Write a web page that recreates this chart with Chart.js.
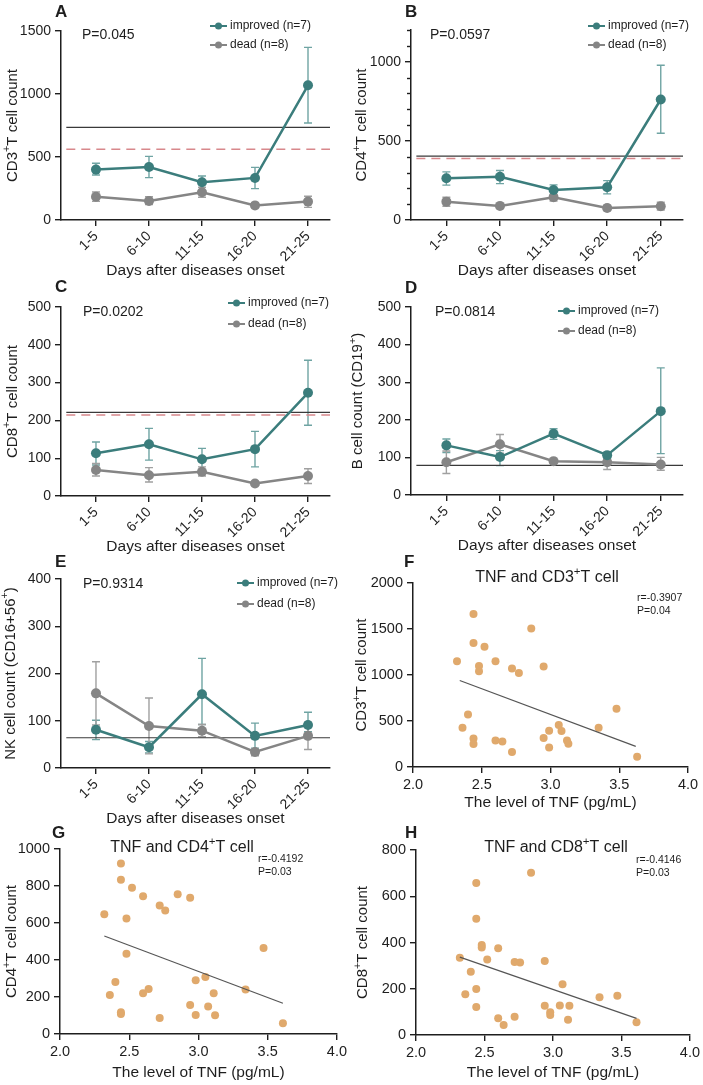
<!DOCTYPE html>
<html>
<head>
<meta charset="utf-8">
<script src="https://cdn.jsdelivr.net/npm/chart.js@4.4.1/dist/chart.umd.min.js"></script>
<style>
  html, body { margin: 0; padding: 0; background: #fff; }
  body { width: 703px; height: 1085px; position: relative; overflow: hidden; }
</style>
</head>
<body>
<script>
// ---- data ----
var days = ["1-5", "6-10", "11-15", "16-20", "21-25"];

// A: CD3+ T cells
var cd3Improved = [400, 420, 299, 334, 1069];
var cd3ImprovedHi = [450, 505, 349, 418, 1370];
var cd3ImprovedLo = [357, 336, 259, 249, 770];
var cd3Dead = [185, 151, 220, 116, 146];
var cd3DeadHi = [222, 185, 259, 135, 188];
var cd3DeadLo = [148, 122, 180, 98, 100];
var cd3Ref = [735, 561];
var cd3Ticks = [0, 500, 1000, 1500];

// B: CD4+ T cells
var cd4Improved = [264, 273, 190, 207, 761];
var cd4ImprovedHi = [304, 313, 222, 249, 977];
var cd4ImprovedLo = [220, 230, 156, 165, 548];
var cd4Dead = [116, 89, 144, 76, 87];
var cd4DeadHi = [144, 100, 161, 93, 112];
var cd4DeadLo = [87, 80, 120, 59, 63];
var cd4Ref = [404, 389];
var cd4Ticks = [0, 500, 1000];
var cd4MinorTicks = [100, 200, 300, 400, 600, 700, 800, 900, 1100, 1200];

// C: CD8+ T cells
var cd8Improved = [113, 137, 97, 124, 273];
var cd8ImprovedHi = [143, 179, 126, 171, 359];
var cd8ImprovedLo = [82, 95, 69, 77, 187];
var cd8Dead = [69, 55, 64, 33, 53];
var cd8DeadHi = [86, 75, 77, 38, 72];
var cd8DeadLo = [53, 37, 53, 28, 33];
var cd8Ref = [221, 214];
var cd8Ticks = [0, 100, 200, 300, 400, 500];

// D: B cells
var bImproved = [132, 101, 163, 106, 223];
var bImprovedHi = [149, 118, 176, 113, 338];
var bImprovedLo = [113, 78, 148, 97, 110];
var bDead = [87, 135, 90, 87, 81];
var bDeadHi = [117, 161, 93, 95, 100];
var bDeadLo = [57, 111, 86, 68, 66];
var bRef = [79];
var bTicks = [0, 100, 200, 300, 400, 500];

// E: NK cells
var nkImproved = [81, 44, 156, 68, 91];
var nkImprovedHi = [101, 56, 232, 95, 118];
var nkImprovedLo = [60, 32, 92, 42, 77];
var nkDead = [158, 89, 79, 34, 68];
var nkDeadHi = [225, 148, 92, 40, 97];
var nkDeadLo = [91, 30, 66, 26, 39];
var nkRef = [64];
var nkTicks = [0, 100, 200, 300, 400];

// F/G/H: TNF correlations
var tnfTicks = [2.0, 2.5, 3.0, 3.5, 4.0];
var tnfCd3X = [2.44, 2.86, 2.44, 2.52, 2.32, 2.48, 2.48, 2.60, 2.72, 2.77, 2.95, 2.40, 2.36, 2.44, 2.44, 2.60, 2.65, 2.72, 2.95, 2.99, 3.06, 3.08, 2.99, 3.12, 3.13, 3.35, 3.48, 3.63];
var tnfCd3Y = [1664, 1505, 1349, 1306, 1150, 1099, 1042, 1150, 1071, 1023, 1092, 571, 427, 311, 250, 289, 278, 163, 315, 394, 456, 391, 213, 289, 253, 427, 633, 112];
var tnfCd3FitX = [2.34, 3.62];
var tnfCd3FitY = [940, 224];
var tnfCd3Ticks = [0, 500, 1000, 1500, 2000];

var tnfCd4X = [2.44, 2.44, 2.52, 2.60, 2.72, 2.76, 2.85, 2.94, 2.32, 2.48, 2.48, 3.47, 2.40, 2.36, 2.44, 2.44, 2.60, 2.64, 2.72, 2.94, 2.98, 3.05, 2.98, 3.07, 3.11, 3.12, 3.34, 3.61];
var tnfCd4Y = [922, 834, 791, 744, 695, 668, 755, 737, 647, 625, 434, 465, 281, 211, 117, 108, 220, 243, 86, 157, 290, 308, 103, 148, 220, 101, 240, 58];
var tnfCd4FitX = [2.32, 3.61];
var tnfCd4FitY = [530, 166];
var tnfCd4Ticks = [0, 200, 400, 600, 800, 1000];

var tnfCd8X = [2.84, 2.44, 2.44, 2.48, 2.48, 2.60, 2.32, 2.52, 2.72, 2.76, 2.94, 2.40, 2.44, 2.36, 2.44, 2.60, 2.64, 2.72, 2.94, 2.98, 2.98, 3.05, 3.07, 3.12, 3.11, 3.34, 3.47, 3.61];
var tnfCd8Y = [702, 657, 503, 389, 378, 375, 334, 326, 316, 313, 320, 274, 199, 176, 121, 72, 43, 79, 127, 98, 86, 128, 220, 127, 66, 163, 170, 55];
var tnfCd8FitX = [2.32, 3.61];
var tnfCd8FitY = [337, 72];
var tnfCd8Ticks = [0, 200, 400, 600, 800];

// ---- styling ----
var FONT = "'Liberation Sans', Arial, Helvetica, sans-serif";
var INK = "#1e1e1e";
var TEAL = "#3b7d7c";
var TEAL_ERR = "#6fa4a3";
var GREY = "#858585";
var GREY_ERR = "#a0a0a0";
var ORANGE = "#e0a96c";
var X_MIN = 0.34, X_MAX = 5.415;

Chart.defaults.font.family = FONT;
Chart.defaults.color = INK;
Chart.defaults.animation = false;

function makeCanvas(b) {
  var c = document.createElement("canvas");
  c.width = b.w;
  c.height = b.h;
  c.style.cssText = "position:absolute;left:" + b.x + "px;top:" + b.y + "px;width:" + b.w + "px;height:" + b.h + "px";
  document.body.appendChild(c);
  return c;
}

// text with "^" parts drawn as superscript
function rich(ctx, parts, x, y, size, align) {
  var segs = parts.map(function (p) {
    return p[0] === "^" ? { t: p.slice(1), s: size * 0.72, dy: -size * 0.36 } : { t: p, s: size, dy: 0 };
  });
  var w = 0;
  segs.forEach(function (g) {
    ctx.font = g.s + "px " + FONT;
    g.w = ctx.measureText(g.t).width;
    w += g.w;
  });
  var cx = align === "center" ? x - w / 2 : x;
  ctx.textAlign = "left";
  segs.forEach(function (g) {
    ctx.font = g.s + "px " + FONT;
    ctx.fillText(g.t, cx, y + g.dy);
    cx += g.w;
  });
}

function overlay(b, o) {
  return {
    id: "overlay",
    beforeDatasetsDraw: function (chart) {
      var ctx = chart.ctx, xs = chart.scales.x, ys = chart.scales.y;
      chart.data.datasets.forEach(function (ds) {
        if (!ds.errHi) return;
        ctx.save();
        ctx.strokeStyle = ds.errColor;
        ctx.lineWidth = 1.4;
        ds.data.forEach(function (p, j) {
          var px = xs.getPixelForValue(p.x);
          var t = ys.getPixelForValue(ds.errHi[j]);
          var bt = ys.getPixelForValue(ds.errLo[j]);
          ctx.beginPath();
          ctx.moveTo(px, t); ctx.lineTo(px, bt);
          ctx.moveTo(px - 4, t); ctx.lineTo(px + 4, t);
          ctx.moveTo(px - 4, bt); ctx.lineTo(px + 4, bt);
          ctx.stroke();
        });
        ctx.restore();
      });
    },
    afterDraw: function (chart) {
      var ctx = chart.ctx, ca = chart.chartArea;
      ctx.save();
      ctx.fillStyle = INK;
      ctx.textBaseline = "alphabetic";
      ctx.textAlign = "left";
      ctx.font = "bold 17px " + FONT;
      ctx.fillText(o.letter, o.letterAt[0] - b.x, o.letterAt[1] - b.y);

      ctx.textBaseline = "middle";
      ctx.save();
      ctx.translate(o.yTitleX - b.x, (ca.top + ca.bottom) / 2);
      ctx.rotate(-Math.PI / 2);
      rich(ctx, o.yTitle, 0, 0, 15, "center");
      ctx.restore();

      if (o.p) {
        ctx.font = "14px " + FONT;
        ctx.textAlign = "left";
        ctx.fillText(o.p, o.pAt[0] - b.x, o.pAt[1] - b.y);
      }
      if (o.legendAt) {
        var items = [["improved (n=7)", TEAL], ["dead (n=8)", GREY]];
        items.forEach(function (it, k) {
          var x0 = o.legendAt[0] - b.x, y0 = o.legendAt[1 + k] - b.y;
          ctx.strokeStyle = it[1];
          ctx.fillStyle = it[1];
          ctx.lineWidth = 2;
          ctx.beginPath(); ctx.moveTo(x0, y0); ctx.lineTo(x0 + 17, y0); ctx.stroke();
          ctx.beginPath(); ctx.arc(x0 + 8.5, y0, 3.5, 0, Math.PI * 2); ctx.fill();
          ctx.fillStyle = INK;
          ctx.font = "12px " + FONT;
          ctx.fillText(it[0], x0 + 20, y0);
        });
      }
      if (o.title) {
        rich(ctx, o.title, o.titleAt[0] - b.x, o.titleAt[1] - b.y, 16, "center");
      }
      if (o.stats) {
        ctx.font = "10.5px " + FONT;
        ctx.fillStyle = INK;
        ctx.fillText(o.stats[0], o.statsAt[0] - b.x, o.statsAt[1] - b.y);
        ctx.fillText(o.stats[1], o.statsAt[0] - b.x, o.statsAt[2] - b.y);
      }
      if (o.minor) {
        var ys = chart.scales.y;
        ctx.strokeStyle = INK;
        ctx.lineWidth = 1.4;
        o.minor.forEach(function (v) {
          var py = Math.round(ys.getPixelForValue(v)) + 0.5;
          ctx.beginPath(); ctx.moveTo(ca.left, py); ctx.lineTo(ca.left - 4, py); ctx.stroke();
        });
      }
      ctx.restore();
    }
  };
}

function axisCommon() {
  return {
    grid: { drawOnChartArea: false, drawTicks: true, tickLength: 6, color: INK, lineWidth: 1.4 },
    border: { color: INK, width: 1.5 }
  };
}

function layoutFor(b) {
  return { padding: { left: 0, top: b.T - b.y, right: b.x + b.w - b.R, bottom: b.y + b.h - b.B - b.xh } };
}

function plain(v) { return String(v); }

function lineChart(b, s, o) {
  var pts = function (arr) { return arr.map(function (v, i) { return { x: i + 1, y: v }; }); };
  var datasets = [
    { data: pts(s.imp), errHi: s.impHi, errLo: s.impLo, errColor: TEAL_ERR, borderColor: TEAL, backgroundColor: TEAL,
      borderWidth: 2.5, pointRadius: 5, pointBorderWidth: 0, tension: 0, order: 1 },
    { data: pts(s.dead), errHi: s.deadHi, errLo: s.deadLo, errColor: GREY_ERR, borderColor: GREY, backgroundColor: GREY,
      borderWidth: 2.5, pointRadius: 5, pointBorderWidth: 0, tension: 0, order: 2 }
  ];
  datasets.push({ data: [{ x: X_MIN + 0.1, y: s.ref[0] }, { x: X_MAX, y: s.ref[0] }], borderColor: "#3a3a3a",
    borderWidth: 1.2, pointRadius: 0, order: 4 });
  if (s.ref.length > 1) {
    datasets.push({ data: [{ x: X_MIN + 0.1, y: s.ref[1] }, { x: X_MAX, y: s.ref[1] }], borderColor: "#d8888c",
      borderWidth: 1.5, borderDash: [9, 6], pointRadius: 0, order: 3 });
  }
  var xa = axisCommon(), ya = axisCommon();
  new Chart(makeCanvas(b), {
    type: "line",
    data: { datasets: datasets },
    options: {
      responsive: false,
      layout: layoutFor(b),
      plugins: { legend: { display: false }, tooltip: { enabled: false } },
      scales: {
        x: {
          type: "linear", min: X_MIN, max: X_MAX,
          afterBuildTicks: function (sc) { sc.ticks = days.map(function (d, i) { return { value: i + 1 }; }); },
          afterFit: function (sc) { sc.height = b.xh; },
          ticks: { callback: function (v, i) { return days[i]; }, minRotation: 45, maxRotation: 45, autoSkip: false,
            font: { size: 14 }, color: INK, padding: 2 },
          grid: xa.grid, border: xa.border,
          title: { display: true, text: "Days after diseases onset", font: { size: 15.5 }, color: INK, padding: { top: 0, bottom: 0 } }
        },
        y: {
          min: 0, max: s.yMax,
          afterBuildTicks: function (sc) { sc.ticks = s.yTicks.map(function (v) { return { value: v }; }); },
          afterFit: function (sc) { sc.width = b.L - b.x; },
          ticks: { callback: plain, font: { size: 14 }, color: INK, padding: 4 },
          grid: ya.grid, border: ya.border
        }
      }
    },
    plugins: [overlay(b, o)]
  });
}

function scatterChart(b, s, o) {
  var xa = axisCommon(), ya = axisCommon();
  new Chart(makeCanvas(b), {
    type: "scatter",
    data: {
      datasets: [
        { data: s.x.map(function (v, i) { return { x: v, y: s.y[i] }; }), backgroundColor: ORANGE,
          pointRadius: 4, pointBorderWidth: 0, order: 2 },
        { data: s.fitX.map(function (v, i) { return { x: v, y: s.fitY[i] }; }), showLine: true, borderColor: "#555",
          borderWidth: 1.2, pointRadius: 0, order: 1 }
      ]
    },
    options: {
      responsive: false,
      layout: layoutFor(b),
      plugins: { legend: { display: false }, tooltip: { enabled: false } },
      scales: {
        x: {
          type: "linear", min: 2, max: 4,
          afterBuildTicks: function (sc) { sc.ticks = tnfTicks.map(function (v) { return { value: v }; }); },
          afterFit: function (sc) { sc.height = b.xh; },
          ticks: { callback: function (v) { return Number(v).toFixed(1); }, maxRotation: 0, font: { size: 14.5 }, color: INK, padding: 3 },
          grid: xa.grid, border: xa.border,
          title: { display: true, text: "The level of TNF (pg/mL)", font: { size: 15.5 }, color: INK, padding: { top: 0, bottom: 0 } }
        },
        y: {
          min: 0, max: s.yTicks[s.yTicks.length - 1],
          afterBuildTicks: function (sc) { sc.ticks = s.yTicks.map(function (v) { return { value: v }; }); },
          afterFit: function (sc) { sc.width = b.L - b.x; },
          ticks: { callback: plain, font: { size: 14.5 }, color: INK, padding: 4 },
          grid: ya.grid, border: ya.border
        }
      }
    },
    plugins: [overlay(b, o)]
  });
}

// ---- panels ----
lineChart(
  { x: 0, y: 0, w: 350, h: 290, L: 61, T: 31, R: 330, B: 220, xh: 60 },
  { imp: cd3Improved, impHi: cd3ImprovedHi, impLo: cd3ImprovedLo, dead: cd3Dead, deadHi: cd3DeadHi, deadLo: cd3DeadLo,
    ref: cd3Ref, yMax: 1500, yTicks: cd3Ticks },
  { letter: "A", letterAt: [55, 17], yTitle: ["CD3", "^+", "T cell count"], yTitleX: 12.5,
    p: "P=0.045", pAt: [82, 35], legendAt: [210, 26, 45] }
);

lineChart(
  { x: 350, y: 0, w: 353, h: 290, L: 411, T: 30, R: 683, B: 220, xh: 60 },
  { imp: cd4Improved, impHi: cd4ImprovedHi, impLo: cd4ImprovedLo, dead: cd4Dead, deadHi: cd4DeadHi, deadLo: cd4DeadLo,
    ref: cd4Ref, yMax: 1200, yTicks: cd4Ticks },
  { letter: "B", letterAt: [405, 17], yTitle: ["CD4", "^+", "T cell count"], yTitleX: 362,
    p: "P=0.0597", pAt: [430, 35], legendAt: [588, 26, 45], minor: cd4MinorTicks }
);

lineChart(
  { x: 0, y: 275, w: 350, h: 290, L: 61, T: 307, R: 330, B: 496, xh: 60 },
  { imp: cd8Improved, impHi: cd8ImprovedHi, impLo: cd8ImprovedLo, dead: cd8Dead, deadHi: cd8DeadHi, deadLo: cd8DeadLo,
    ref: cd8Ref, yMax: 500, yTicks: cd8Ticks },
  { letter: "C", letterAt: [55, 292], yTitle: ["CD8", "^+", "T cell count"], yTitleX: 12.5,
    p: "P=0.0202", pAt: [83, 312], legendAt: [228, 303, 324] }
);

lineChart(
  { x: 350, y: 275, w: 353, h: 290, L: 411, T: 307, R: 683, B: 495, xh: 60 },
  { imp: bImproved, impHi: bImprovedHi, impLo: bImprovedLo, dead: bDead, deadHi: bDeadHi, deadLo: bDeadLo,
    ref: bRef, yMax: 500, yTicks: bTicks },
  { letter: "D", letterAt: [405, 293], yTitle: ["B cell count (CD19", "^+", ")"], yTitleX: 358,
    p: "P=0.0814", pAt: [435, 312], legendAt: [558, 311, 331] }
);

lineChart(
  { x: 0, y: 548, w: 350, h: 290, L: 61, T: 579, R: 330, B: 768, xh: 60 },
  { imp: nkImproved, impHi: nkImprovedHi, impLo: nkImprovedLo, dead: nkDead, deadHi: nkDeadHi, deadLo: nkDeadLo,
    ref: nkRef, yMax: 400, yTicks: nkTicks },
  { letter: "E", letterAt: [55, 567], yTitle: ["NK cell count (CD16+56", "^+", ")"], yTitleX: 10.5,
    p: "P=0.9314", pAt: [83, 584], legendAt: [237, 583, 604] }
);

scatterChart(
  { x: 350, y: 548, w: 353, h: 270, L: 413, T: 583, R: 688, B: 767, xh: 45 },
  { x: tnfCd3X, y: tnfCd3Y, fitX: tnfCd3FitX, fitY: tnfCd3FitY, yTicks: tnfCd3Ticks },
  { letter: "F", letterAt: [404, 567], yTitle: ["CD3", "^+", "T cell count"], yTitleX: 362,
    title: ["TNF and CD3", "^+", "T cell"], titleAt: [547, 578], stats: ["r=-0.3907", "P=0.04"], statsAt: [637, 598, 611] }
);

scatterChart(
  { x: 0, y: 820, w: 350, h: 265, L: 60, T: 849, R: 337, B: 1034, xh: 48 },
  { x: tnfCd4X, y: tnfCd4Y, fitX: tnfCd4FitX, fitY: tnfCd4FitY, yTicks: tnfCd4Ticks },
  { letter: "G", letterAt: [52, 838], yTitle: ["CD4", "^+", "T cell count"], yTitleX: 12,
    title: ["TNF and CD4", "^+", "T cell"], titleAt: [182, 848], stats: ["r=-0.4192", "P=0.03"], statsAt: [258, 859, 872] }
);

scatterChart(
  { x: 350, y: 820, w: 353, h: 265, L: 416, T: 850, R: 692, B: 1035, xh: 47 },
  { x: tnfCd8X, y: tnfCd8Y, fitX: tnfCd8FitX, fitY: tnfCd8FitY, yTicks: tnfCd8Ticks },
  { letter: "H", letterAt: [405, 838], yTitle: ["CD8", "^+", "T cell count"], yTitleX: 363,
    title: ["TNF and CD8", "^+", "T cell"], titleAt: [556, 848], stats: ["r=-0.4146", "P=0.03"], statsAt: [636, 860, 873] }
);
</script>
</body>
</html>
